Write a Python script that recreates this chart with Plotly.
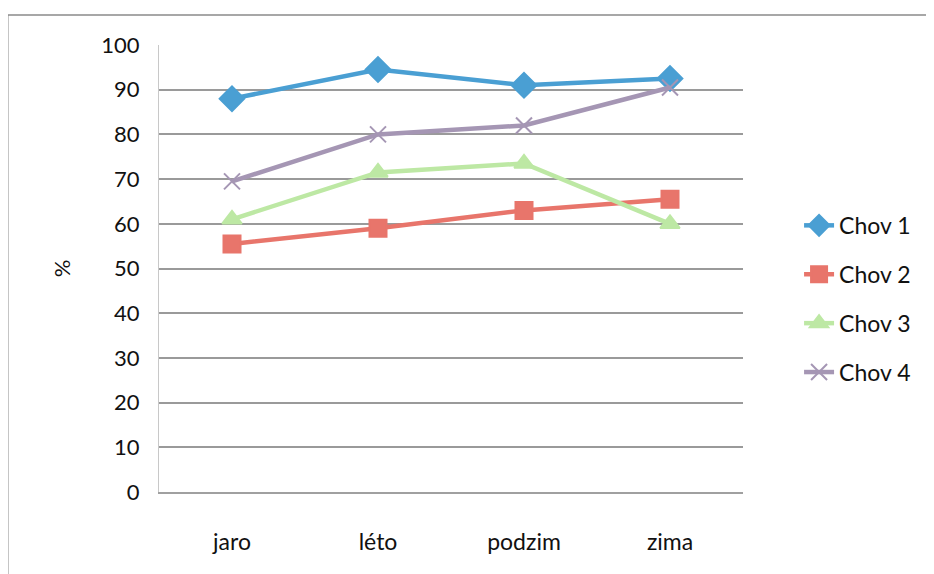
import plotly.graph_objects as go

categories = ["jaro", "léto", "podzim", "zima"]
chov1 = [88, 94.5, 91, 92.5]
chov2 = [55.5, 59, 63, 65.5]
chov3 = [61, 71.5, 73.5, 60]
chov4 = [69.5, 80, 82, 90.5]
y_ticks = [0, 10, 20, 30, 40, 50, 60, 70, 80, 90, 100]

series = [
    ("Chov 1", chov1, "#4A9FD3", "diamond", 19),
    ("Chov 2", chov2, "#E8756B", "square", 17),
    ("Chov 3", chov3, "#BDE8A4", "triangle-up", 17),
    ("Chov 4", chov4, "#A596B4", "x-thin", 16),
]

fig = go.Figure()
for i, (name, vals, col, sym, sz) in enumerate(series):
    fig.add_trace(go.Scatter(
        x=categories, y=vals, name=name, mode="lines+markers",
        line=dict(color=col, width=4.5),
        marker=dict(symbol=sym, size=sz, color=col,
                    line=dict(color=col, width=2)),
        legendgroup=f"g{i}",
    ))

font = "Lato, 'Open Sans', sans-serif"
fig.update_layout(
    width=934, height=574,
    margin=dict(l=151, r=199, t=37, b=90, autoexpand=False),
    paper_bgcolor="white", plot_bgcolor="white",
    font=dict(family=font, size=22, color="#111111"),
    showlegend=True,
    legend=dict(x=1.096, y=0.432, xanchor="left", yanchor="middle",
                tracegroupgap=16, font=dict(size=23),
                bgcolor="rgba(0,0,0,0)"),
    xaxis=dict(type="category", range=[-0.5, 3.5], showgrid=False,
               showline=True, linecolor="#a0a0a0", linewidth=1.5,
               automargin=False,
               ticks="", tickfont=dict(size=23), ticklabelstandoff=29),
    yaxis=dict(range=[0, 100], tickvals=y_ticks, showgrid=True,
               gridcolor="#9a9a9a", gridwidth=1.5, zeroline=False,
               showline=True, linecolor="#c8c8c8", linewidth=1,
               automargin=False,
               ticks="", tickfont=dict(size=22), ticklabelstandoff=14,
               title=dict(text="%", font=dict(size=22), standoff=24)),
    shapes=[
        dict(type="line", xref="paper", yref="paper", x0=-0.259, x1=1.4,
             y0=1.067, y1=1.067, line=dict(color="#8a8a8a", width=1.5)),
        dict(type="line", xref="paper", yref="paper", x0=-0.259, x1=-0.259,
             y0=1.067, y1=-0.3, line=dict(color="#8a8a8a", width=1.5)),
    ],
)
fig.write_html("out.html")
